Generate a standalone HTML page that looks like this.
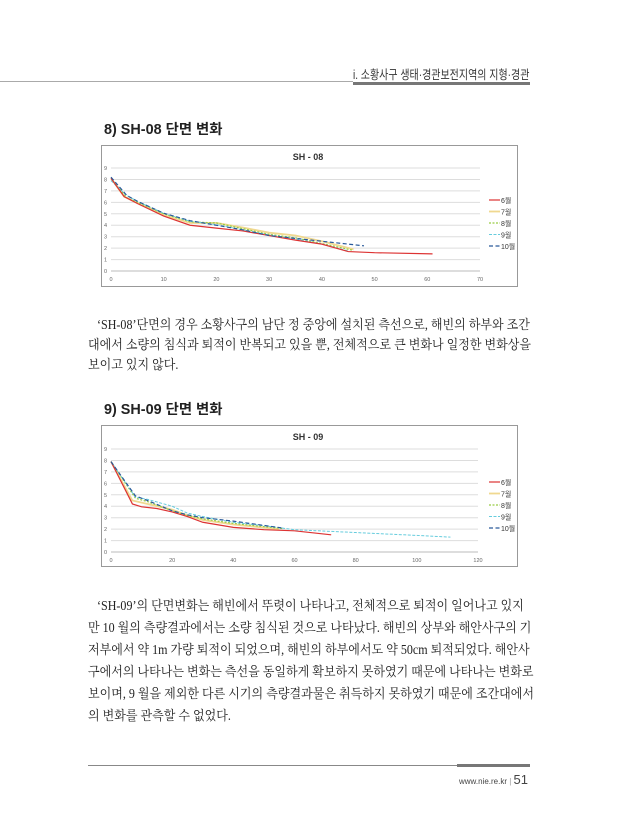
<!DOCTYPE html>
<html><head><meta charset="utf-8">
<style>
body{margin:0;background:#fff;}
.pg{position:relative;width:619px;height:840px;overflow:hidden;font-family:"Liberation Serif","Noto Serif CJK SC",serif;color:#222;}
.hd{position:absolute;left:353px;top:64px;font-size:12.5px;font-family:"Liberation Sans","Noto Sans CJK KR",sans-serif;color:#333;white-space:nowrap;transform:scaleX(0.8);transform-origin:left top;}
.h2{position:absolute;left:104px;font-size:14.4px;font-weight:bold;font-family:"Liberation Sans","Noto Sans CJK KR",sans-serif;color:#222;}
.tx{position:absolute;left:88px;font-size:13.3px;transform:scaleX(0.905);transform-origin:left top;}
.tx div{height:20px;white-space:nowrap;}
</style></head><body><div class="pg">
<div style="position:absolute;left:0;top:81px;width:353px;height:1px;background:#aaa"></div>
<div style="position:absolute;left:353px;top:82px;width:177px;height:3px;background:#777"></div>
<div class="hd">i. 소황사구 생태·경관보전지역의 지형·경관</div>

<div class="h2" style="top:118px">8) SH-08 단면 변화</div>
<div class="h2" style="top:398px">9) SH-09 단면 변화</div>

<svg width="619" height="840" style="position:absolute;left:0;top:0" font-family="Liberation Sans, Noto Sans CJK KR, sans-serif">
<rect x="101.5" y="145.5" width="416" height="141" fill="#fff" stroke="#999"/>
<text x="308" y="160" font-size="9" font-weight="bold" text-anchor="middle" fill="#333">SH - 08</text>
<g stroke="#ddd" stroke-width="1">
<line x1="111" x2="480" y1="271" y2="271" stroke="#bbb"/><line x1="111" x2="480" y1="259.6" y2="259.6"/><line x1="111" x2="480" y1="248.1" y2="248.1"/><line x1="111" x2="480" y1="236.7" y2="236.7"/><line x1="111" x2="480" y1="225.2" y2="225.2"/><line x1="111" x2="480" y1="213.8" y2="213.8"/><line x1="111" x2="480" y1="202.4" y2="202.4"/><line x1="111" x2="480" y1="190.9" y2="190.9"/><line x1="111" x2="480" y1="179.5" y2="179.5"/><line x1="111" x2="480" y1="168" y2="168"/>
</g>
<g font-size="5.5" fill="#666" text-anchor="end">
<text x="107" y="273">0</text><text x="107" y="261.6">1</text><text x="107" y="250.1">2</text><text x="107" y="238.7">3</text><text x="107" y="227.2">4</text><text x="107" y="215.8">5</text><text x="107" y="204.4">6</text><text x="107" y="192.9">7</text><text x="107" y="181.5">8</text><text x="107" y="170">9</text>
</g>
<g font-size="5.5" fill="#666" text-anchor="middle">
<text x="111" y="281">0</text><text x="163.7" y="281">10</text><text x="216.4" y="281">20</text><text x="269.1" y="281">30</text><text x="321.9" y="281">40</text><text x="374.6" y="281">50</text><text x="427.3" y="281">60</text><text x="480" y="281">70</text>
</g>
<g transform="translate(111,271) scale(5.271,-11.44)" fill="none">
<polyline vector-effect="non-scaling-stroke" stroke="#f0d890" stroke-width="1.8" points="0,8.1 2.5,6.5 5,5.95 10,4.9 15,4.2 20,4.2 25,3.8 30,3.35 35,3.1 40,2.6 46,1.9"/>
<polyline vector-effect="non-scaling-stroke" stroke="#9c4" stroke-width="1.2" stroke-dasharray="2,1.5" points="0,8.1 3,6.4 5,6 10,5 15,4.3 20,4.2 25,3.7 30,3.2 35,2.9 40,2.4 46,1.8"/>
<polyline vector-effect="non-scaling-stroke" stroke="#6cd" stroke-width="1" stroke-dasharray="3,1.5" points="0,7.9 3,6.6 5,6.1 10,5.05 15,4.35 20,4.05 25,3.6 30,3.15 35,2.8 40,2.35 45,1.75"/>
<polyline vector-effect="non-scaling-stroke" stroke="#d33" stroke-width="1.2" points="0,8.1 2.5,6.5 5,5.9 10,4.8 15,4.0 20,3.75 25,3.5 30,3.1 35,2.7 40,2.35 45,1.7 50,1.6 61,1.5"/>
<polyline vector-effect="non-scaling-stroke" stroke="#2a5a9a" stroke-width="1.2" stroke-dasharray="4,2.5" points="0,8.2 3,6.6 5,6.1 10,5.05 15,4.4 20,4.0 25,3.6 30,3.1 35,2.85 40,2.6 48,2.2"/>
</g>
<g font-size="7" fill="#333">
<line x1="489" x2="500" y1="200" y2="200" stroke="#d33" stroke-width="1.2"/><text x="501" y="203">6월</text>
<line x1="489" x2="500" y1="211.5" y2="211.5" stroke="#f0d890" stroke-width="1.8"/><text x="501" y="214.5">7월</text>
<line x1="489" x2="500" y1="223" y2="223" stroke="#9c4" stroke-width="1.2" stroke-dasharray="2,1.5"/><text x="501" y="226">8월</text>
<line x1="489" x2="500" y1="234.5" y2="234.5" stroke="#6cd" stroke-width="1" stroke-dasharray="3,1.5"/><text x="501" y="237.5">9월</text>
<line x1="489" x2="500" y1="246" y2="246" stroke="#2a5a9a" stroke-width="1.2" stroke-dasharray="4,2.5"/><text x="501" y="249">10월</text>
</g>

<rect x="101.5" y="425.5" width="416" height="141" fill="#fff" stroke="#999"/>
<text x="308" y="440" font-size="9" font-weight="bold" text-anchor="middle" fill="#333">SH - 09</text>
<g stroke="#ddd" stroke-width="1">
<line x1="111" x2="478" y1="552" y2="552" stroke="#bbb"/><line x1="111" x2="478" y1="540.6" y2="540.6"/><line x1="111" x2="478" y1="529.1" y2="529.1"/><line x1="111" x2="478" y1="517.7" y2="517.7"/><line x1="111" x2="478" y1="506.2" y2="506.2"/><line x1="111" x2="478" y1="494.8" y2="494.8"/><line x1="111" x2="478" y1="483.4" y2="483.4"/><line x1="111" x2="478" y1="471.9" y2="471.9"/><line x1="111" x2="478" y1="460.5" y2="460.5"/><line x1="111" x2="478" y1="449" y2="449"/>
</g>
<g font-size="5.5" fill="#666" text-anchor="end">
<text x="107" y="554">0</text><text x="107" y="542.6">1</text><text x="107" y="531.1">2</text><text x="107" y="519.7">3</text><text x="107" y="508.2">4</text><text x="107" y="496.8">5</text><text x="107" y="485.4">6</text><text x="107" y="473.9">7</text><text x="107" y="462.5">8</text><text x="107" y="451">9</text>
</g>
<g font-size="5.5" fill="#666" text-anchor="middle">
<text x="111" y="562">0</text><text x="172.2" y="562">20</text><text x="233.3" y="562">40</text><text x="294.5" y="562">60</text><text x="355.7" y="562">80</text><text x="416.8" y="562">100</text><text x="478" y="562">120</text>
</g>
<g transform="translate(111,552) scale(3.058,-11.44)" fill="none">
<polyline vector-effect="non-scaling-stroke" stroke="#f0d890" stroke-width="1.8" points="0,7.9 7,4.5 12,4.2 20,3.7 25,3.2 30,2.8 40,2.4 55,2.0"/>
<polyline vector-effect="non-scaling-stroke" stroke="#9c4" stroke-width="1.2" stroke-dasharray="2,1.5" points="0,7.9 8,4.7 12,4.4 20,3.6 25,3.2 30,2.9 40,2.5 56,2.05"/>
<polyline vector-effect="non-scaling-stroke" stroke="#6cd" stroke-width="1" stroke-dasharray="3,1.5" points="0,7.9 8,4.8 12,4.6 20,4.0 25,3.4 30,3.1 40,2.6 50,2.3 60,1.95 80,1.7 100,1.45 111,1.3"/>
<polyline vector-effect="non-scaling-stroke" stroke="#d33" stroke-width="1.2" points="0,7.9 7,4.2 10,3.95 15,3.8 20,3.5 25,3.1 30,2.6 40,2.15 50,1.95 60,1.85 72,1.5"/>
<polyline vector-effect="non-scaling-stroke" stroke="#2a5a9a" stroke-width="1.2" stroke-dasharray="4,2.5" points="0,7.9 8,4.9 12,4.5 20,3.6 25,3.25 30,3.0 40,2.7 56,2.1"/>
</g>
<g font-size="7" fill="#333">
<line x1="489" x2="500" y1="482" y2="482" stroke="#d33" stroke-width="1.2"/><text x="501" y="485">6월</text>
<line x1="489" x2="500" y1="493.5" y2="493.5" stroke="#f0d890" stroke-width="1.8"/><text x="501" y="496.5">7월</text>
<line x1="489" x2="500" y1="505" y2="505" stroke="#9c4" stroke-width="1.2" stroke-dasharray="2,1.5"/><text x="501" y="508">8월</text>
<line x1="489" x2="500" y1="516.5" y2="516.5" stroke="#6cd" stroke-width="1" stroke-dasharray="3,1.5"/><text x="501" y="519.5">9월</text>
<line x1="489" x2="500" y1="528" y2="528" stroke="#2a5a9a" stroke-width="1.2" stroke-dasharray="4,2.5"/><text x="501" y="531">10월</text>
</g>
</svg>

<div class="tx" style="top:314px">
<div>&nbsp;&nbsp;&nbsp;‘SH-08’단면의 경우 소황사구의 남단 정 중앙에 설치된 측선으로, 해빈의 하부와 조간</div>
<div>대에서 소량의 침식과 퇴적이 반복되고 있을 뿐, 전체적으로 큰 변화나 일정한 변화상을</div>
<div>보이고 있지 않다.</div>
</div>

<div class="tx" style="top:595px">
<div style="height:22px">&nbsp;&nbsp;&nbsp;‘SH-09’의 단면변화는 해빈에서 뚜렷이 나타나고, 전체적으로 퇴적이 일어나고 있지</div>
<div style="height:22px">만 10 월의 측량결과에서는 소량 침식된 것으로 나타났다. 해빈의 상부와 해안사구의 기</div>
<div style="height:22px">저부에서 약 1m 가량 퇴적이 되었으며, 해빈의 하부에서도 약 50cm 퇴적되었다. 해안사</div>
<div style="height:22px">구에서의 나타나는 변화는 측선을 동일하게 확보하지 못하였기 때문에 나타나는 변화로</div>
<div style="height:22px">보이며, 9 월을 제외한 다른 시기의 측량결과물은 취득하지 못하였기 때문에 조간대에서</div>
<div style="height:22px">의 변화를 관측할 수 없었다.</div>
</div>

<div style="position:absolute;left:88px;top:765px;width:369px;height:1px;background:#888"></div>
<div style="position:absolute;left:457px;top:764px;width:73px;height:3px;background:#777"></div>
<div style="position:absolute;left:459px;top:772px;font-family:'Liberation Sans',sans-serif;font-size:8px;color:#444;white-space:nowrap">www.nie.re.kr <span style="color:#999">|</span> <span style="font-size:13px">51</span></div>
</div></body></html>
